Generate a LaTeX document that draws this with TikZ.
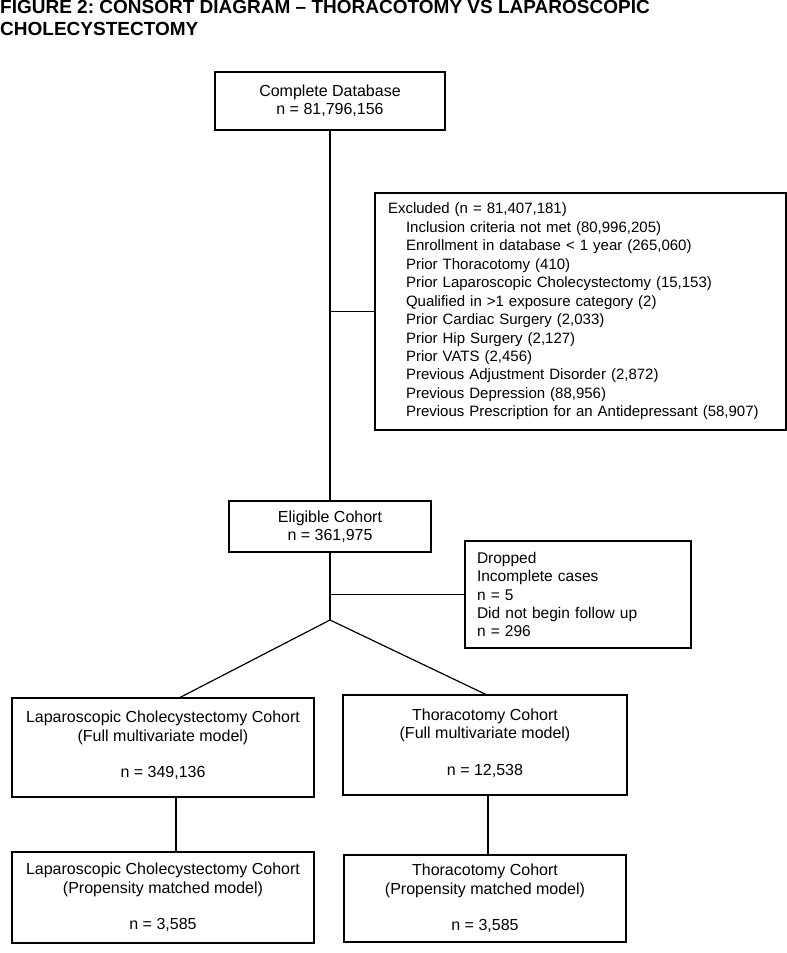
\documentclass[tikz,border=0pt]{standalone}
\usepackage{fontspec}
\setmainfont{Liberation Sans}
\usepackage{tikz}
\usetikzlibrary{positioning}
\frenchspacing
\tikzstyle{cbox} = [draw, line width=1.2pt, align=center, outer sep=0pt,
    inner sep=0pt, font=\fontsize{16}{18.4}\selectfont]
\tikzstyle{lbox} = [cbox, align=left, inner ysep=0pt]
\tikzset{link/.style={line width=1.2pt}}
\newcommand{\ind}{\hspace*{18pt}}

\begin{document}
\begin{tikzpicture}[x=1pt,y=-1pt]
\useasboundingbox (0,0) rectangle (787,953);
% title
\node[anchor=north west, inner sep=0pt, align=left,
      font=\fontsize{19}{21.85}\selectfont\bfseries] (title) at (0,0.5)
    {FIGURE 2: CONSORT DIAGRAM -- THORACOTOMY VS LAPAROSCOPIC\\CHOLECYSTECTOMY};
% top of the chart
\node[cbox, minimum width=230pt, minimum height=58pt] (cdb) at (330,101)
    {Complete Database\\n = 81,796,156};
\node[lbox, inner xsep=13pt, text width=385pt, minimum height=237pt,
      font=\fontsize{15}{18.45}\selectfont] (excl) at (580.5,311.5)
    {Excluded (n = 81,407,181)\\
     \ind Inclusion criteria not met (80,996,205)\\
     \ind Enrollment in database < 1 year (265,060)\\
     \ind Prior Thoracotomy (410)\\
     \ind Prior Laparoscopic Cholecystectomy (15,153)\\
     \ind Qualified in >1 exposure category (2)\\
     \ind Prior Cardiac Surgery (2,033)\\
     \ind Prior Hip Surgery (2,127)\\
     \ind Prior VATS (2,456)\\
     \ind Previous Adjustment Disorder (2,872)\\
     \ind Previous Depression (88,956)\\
     \ind Previous Prescription for an Antidepressant (58,907)};
\node[cbox, minimum width=202pt, minimum height=51pt] (elig) at (330,526.5)
    {Eligible Cohort\\n = 361,975};
\node[lbox, inner xsep=12pt, text width=202pt, minimum height=107pt,
      font=\fontsize{15.5}{18.3}\selectfont] (drop) at (578,594.5)
    {Dropped\\Incomplete cases\\n = 5\\Did not begin follow up\\n = 296};
% cohorts
\node[cbox, minimum width=302pt, minimum height=99pt, text depth=6pt] (lfull) at (163,747.5)
    {Laparoscopic Cholecystectomy Cohort\\(Full multivariate model)\\[18.4pt]n = 349,136};
\node[cbox, minimum width=284pt, minimum height=100pt, text depth=6pt] (rfull) at (485,745)
    {Thoracotomy Cohort\\(Full multivariate model)\\[18.4pt]n = 12,538};
\node[cbox, minimum width=302pt, minimum height=91pt] (llow) at (163,897.5)
    {Laparoscopic Cholecystectomy Cohort\\(Propensity matched model)\\[18.4pt]n = 3,585};
\node[cbox, minimum width=282pt, minimum height=87pt] (rlow) at (485,898.5)
    {Thoracotomy Cohort\\(Propensity matched model)\\[18.4pt]n = 3,585};
% junctions
\coordinate (j1) at (cdb.south |- excl.west);
\coordinate (j2) at (elig.south |- drop.west);
\coordinate (split) at (330,620);
% lines
\draw[link] (cdb.south) -- (cdb.south |- elig.north);
\draw[link] (j1) -- (excl.west);
\draw[link] (elig.south) -- (split);
\draw[link] (j2) -- (drop.west);
\draw[link] (split) -- ([xshift=16pt]lfull.north);
\draw[link] (split) -- ([xshift=2pt]rfull.north);
\draw[link] ([xshift=13pt]lfull.south) -- ([xshift=13pt]llow.north);
\draw[link] ([xshift=3pt]rfull.south) -- ([xshift=3pt]rlow.north);
\end{tikzpicture}
\end{document}
